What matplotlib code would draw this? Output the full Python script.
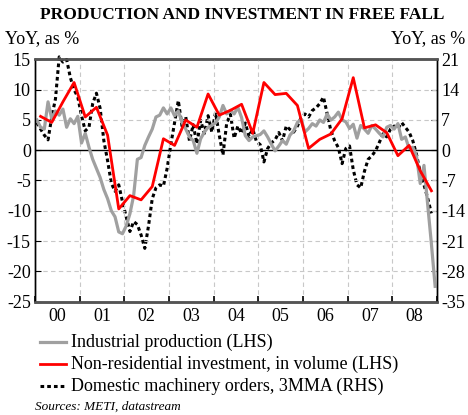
import matplotlib
matplotlib.use("Agg")
import matplotlib.pyplot as plt
from matplotlib.lines import Line2D
import numpy as np

plt.rcParams["font.family"] = ["Liberation Serif", "DejaVu Serif"]

# Industrial production, YoY % (LHS), monthly Jan 2000 - Dec 2008
industrial_production = [
    5.0, 3.8, 3.5, 8.0, 5.2, 6.5, 5.8, 6.8, 3.8, 5.2, 4.4, 5.6,
    1.2, 2.8, 0.5, -1.5, -3.0, -4.5, -6.5, -8.0, -10.0, -11.0, -13.5, -13.8,
    -12.5, -10.5, -7.5, -1.5, -1.2, 0.8, 2.2, 3.5, 5.5, 5.8, 7.0, 6.0,
    7.0, 5.7, 6.5, 4.6, 3.5, 2.2, 1.6, -0.5, 1.9, 3.0, 3.8, 4.1,
    4.5, 5.5, 7.4, 6.0, 6.6, 6.0, 7.1, 5.4, 2.4, 1.6, 2.2, 2.4,
    2.6, 3.2, 2.2, 1.0, -0.1, 0.7, 1.6, 1.0, 2.5, 3.2, 4.6, 5.1,
    3.0, 3.6, 4.4, 4.0, 5.0, 4.6, 6.0, 5.0, 5.5, 6.3, 5.0, 4.7,
    3.6, 4.3, 2.0, 4.1, 3.5, 2.8, 4.1, 3.5, 2.8, 2.2, 3.8, 4.1,
    3.5, 4.4, 1.8, 2.2, 0.3, 0.5, -1.0, -5.5, -2.5, -9.0, -15.5, -22.5,
]

# Non-residential investment in volume, YoY % (LHS), quarterly 2000Q1 - 2008Q4
investment = [
    5.6, 4.6, 8.0, 11.2,
    5.5, 7.1, 2.5, -9.7,
    -7.5, -8.2, -6.0, 1.9,
    0.8, 5.0, 3.8, 9.3,
    5.8, 6.6, 7.6, 2.8,
    11.2, 9.2, 9.4, 7.4,
    0.3, 1.8, 2.7, 5.2,
    12.0, 3.7, 4.2, 2.9,
    -0.9, 0.8, -3.4, -6.7,
]

# Domestic machinery orders 3MMA, YoY % (RHS), monthly Jan 2000 - Nov 2008
machinery_orders = [
    6.4, 4.9, 3.5, 2.4, 7.7, 11.9, 21.6, 20.4, 21.0, 16.8, 14.0, 12.3,
    8.0, 4.5, 5.3, 10.8, 13.2, 9.7, 2.2, -2.4, -7.6, -9.5, -8.0, -11.9,
    -15.4, -18.8, -16.5, -17.2, -19.6, -22.7, -17.5, -11.2, -8.7, -8.0, -8.3, -4.2,
    1.4, 6.4, 11.5, 5.6, 7.7, 2.2, 5.9, 1.5, 6.9, 3.9, 8.0, 4.2,
    8.7, 3.5, -1.1, 6.3, 8.3, 2.8, 5.6, 3.9, 6.3, 3.2, 4.9, 2.0,
    1.3, -2.7, 0.4, 1.7, 2.4, 4.1, 2.2, 5.6, 4.8, 4.2, 5.6, 7.6,
    8.4, 7.7, 9.2, 9.8, 10.8, 12.3, 8.4, 4.5, 2.2, 0.6, -3.1, 0.4,
    1.0, -4.5, -8.0, -8.7, -4.9, -2.1, -1.3, -0.1, 1.8, 3.8, 3.1, 4.9,
    5.6, 5.0, 6.4, 5.3, 4.2, 2.2, -1.0, -5.2, -8.0, -11.1, -14.6,
]

year_labels = ["00", "01", "02", "03", "04", "05", "06", "07", "08"]
left_ticks = [15, 10, 5, 0, -5, -10, -15, -20, -25]
right_ticks = [21, 14, 7, 0, -7, -14, -21, -28, -35]

W, H = 468, 415
fig = plt.figure(figsize=(W / 100, H / 100), dpi=100)
ax = fig.add_axes([35 / W, 1 - 301.5 / H, 402 / W, 242 / H])
ax2 = ax.twinx()

x_month_ip = 2000 + (np.arange(len(industrial_production)) + 0.5) / 12
x_month_mo = 2000 + (np.arange(len(machinery_orders)) + 0.5) / 12
x_quarter = 2000 + (np.arange(len(investment)) + 0.5) / 4

# grid
for yr in range(2001, 2009):
    ax.axvline(yr, color="#c8c8c8", lw=0.8, ls=(0, (4, 3)), zorder=0)
for v in left_ticks[1:-1]:
    if v != 0:
        ax.axhline(v, color="#c8c8c8", lw=0.8, ls=(0, (4, 3)), zorder=0)
ax.axhline(0, color="black", lw=1.0, zorder=1)

ax.plot(x_month_ip, industrial_production, color="#a0a0a0", lw=2.3, zorder=2)
ax.plot(x_quarter, investment, color="#ff0000", lw=2.0, zorder=4)
ax2.plot(x_month_mo, machinery_orders, color="black", lw=2.2,
         ls=(0, (1.2, 1.0)), zorder=3, clip_on=False)

ax.set_xlim(2000, 2008.97)
ax.set_ylim(-25, 15)
ax2.set_ylim(-35, 21)
ax.set_yticks(left_ticks)
ax.set_yticklabels([str(v) for v in left_ticks])
ax2.set_yticks(right_ticks)
ax2.set_yticklabels([str(v) for v in right_ticks])

ax.set_xticks(range(2000, 2010))
ax.set_xticklabels([])
ax.set_xticks([y + 0.5 for y in range(2000, 2009)], minor=True)
ax.set_xticklabels(year_labels, minor=True)
ax.tick_params(axis="x", which="major", direction="in", length=4, width=1.2,
               top=False)
ax.tick_params(axis="x", which="minor", length=0, labelsize=13, pad=5)
ax.tick_params(axis="y", direction="in", length=4, labelsize=13, pad=3)
ax2.tick_params(axis="y", direction="in", length=4, labelsize=13, pad=3)

for a in (ax, ax2):
    a.spines["top"].set_color("#555555")
    a.spines["top"].set_linewidth(1.8)
    a.spines["bottom"].set_color("#555555")
    a.spines["bottom"].set_linewidth(1.8)
    a.spines["left"].set_linewidth(1.0)
    a.spines["right"].set_linewidth(1.0)
ax.set_zorder(ax2.get_zorder() + 1)
ax.patch.set_visible(False)

fig.text(242 / W, 1 - 15 / H, "PRODUCTION AND INVESTMENT IN FREE FALL",
         ha="center", va="center", fontsize=12.5, fontweight="bold")
fig.text(5 / W, 1 - 39 / H, "YoY, as %", ha="left", va="center", fontsize=13)
fig.text(465 / W, 1 - 39 / H, "YoY, as %", ha="right", va="center", fontsize=13)

legend_items = [
    ("Industrial production (LHS)", dict(color="#a0a0a0", lw=2.3, ls="-")),
    ("Non-residential investment, in volume (LHS)", dict(color="#ff0000", lw=2.0, ls="-")),
    ("Domestic machinery orders, 3MMA (RHS)", dict(color="black", lw=2.2, ls=(0, (1.2, 1.0)))),
]
for i, (label, style) in enumerate(legend_items):
    yy = 1 - (342 + 22 * i) / H
    fig.add_artist(Line2D([40 / W, 66 / W], [yy, yy], transform=fig.transFigure, **style))
    fig.text(71 / W, yy, label, ha="left", va="center", fontsize=13)

fig.text(35 / W, 1 - 407 / H, "Sources: METI, datastream", ha="left",
         va="center", fontsize=9.5, style="italic")

fig.savefig("out.png", dpi=100)
